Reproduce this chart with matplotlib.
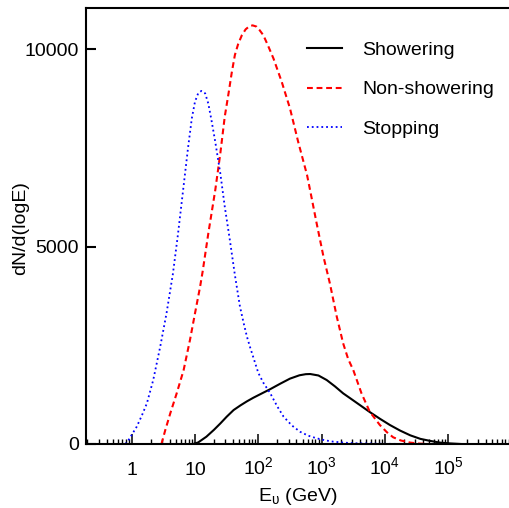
import numpy as np
import matplotlib
matplotlib.use("Agg")
import matplotlib.pyplot as plt
from matplotlib.ticker import LogLocator, NullFormatter, FixedLocator

plt.rcParams['font.family'] = ['Liberation Sans', 'DejaVu Sans']
plt.rcParams['mathtext.fontset'] = 'custom'
plt.rcParams['mathtext.rm'] = 'Liberation Sans'
plt.rcParams['mathtext.it'] = 'Liberation Sans:italic'

# log10(E/GeV) and dN/d(logE)
shower_logE = [0.97, 1.05, 1.18, 1.30, 1.40, 1.50, 1.61, 1.72, 1.82, 1.92, 2.03, 2.19,
               2.35, 2.50, 2.65, 2.75, 2.82, 2.95, 3.08, 3.21, 3.34, 3.45, 3.61, 3.76,
               3.92, 4.08, 4.24, 4.40, 4.56, 4.71, 4.87, 5.03, 5.20]
shower_val = [0, 40, 185, 360, 520, 690, 860, 980, 1080, 1170, 1260, 1390,
              1530, 1655, 1740, 1768, 1772, 1735, 1620, 1460, 1283, 1160, 980, 810,
              640, 480, 340, 220, 130, 80, 35, 15, 0]

nonshower_logE = [0.47, 0.53, 0.61, 0.71, 0.82, 0.92, 1.00, 1.08, 1.12, 1.21, 1.32, 1.40,
                  1.47, 1.53, 1.58, 1.63, 1.68, 1.74, 1.80, 1.86, 1.91, 1.97, 2.02, 2.08,
                  2.15, 2.24, 2.37, 2.50, 2.63, 2.77, 2.84, 2.92, 3.03, 3.13, 3.24, 3.34,
                  3.42, 3.50, 3.63, 3.76, 3.92, 4.03, 4.13, 4.25, 4.40, 4.55, 4.71]
nonshower_val = [0, 350, 780, 1280, 1870, 2630, 3310, 3980, 4360, 5330, 6430, 7360,
                 8290, 8880, 9400, 9850, 10120, 10350, 10500, 10580, 10600, 10570, 10480, 10350,
                 10100, 9760, 9170, 8500, 7650, 6810, 6250, 5600, 4740, 4070, 3220, 2550,
                 2150, 1873, 1283, 818, 481, 300, 170, 90, 35, 10, 0]

stop_logE = [-0.10, -0.05, 0.08, 0.16, 0.24, 0.34, 0.45, 0.55, 0.65, 0.73, 0.81, 0.89,
             0.95, 1.00, 1.05, 1.10, 1.16, 1.21, 1.26, 1.32, 1.40, 1.47, 1.55, 1.63,
             1.71, 1.77, 1.82, 1.87, 1.93, 2.00, 2.08, 2.19, 2.30, 2.40, 2.53, 2.66,
             2.79, 2.92, 3.05, 3.18, 3.35, 3.50, 4.00, 4.50]
stop_val = [0, 100, 440, 720, 1030, 1620, 2460, 3310, 4300, 5300, 6400, 7500,
            8250, 8670, 8880, 8940, 8880, 8620, 8200, 7650, 6850, 6010, 5170, 4280,
            3480, 3050, 2720, 2450, 2150, 1800, 1550, 1280, 950, 690, 470, 310,
            210, 145, 95, 60, 35, 20, 5, 0]

decades = [0, 1, 2, 3, 4, 5]
decade_labels = ['1', '10', r'$10^{2}$', r'$10^{3}$', r'$10^{4}$', r'$10^{5}$']

fig = plt.figure(figsize=(5.10, 5.08), dpi=100)
ax = fig.add_axes([86/510, 64/508, 1 - 86/510, 436/508])

ax.plot(10**np.array(shower_logE), shower_val, color='black', lw=1.5, label='Showering')
ax.plot(10**np.array(nonshower_logE), nonshower_val, color='red', lw=1.5,
        dashes=(2.8, 1.8), label='Non-showering')
ax.plot(10**np.array(stop_logE), stop_val, color='blue', lw=1.3, ls=':', label='Stopping')

ax.set_xscale('log')
ax.set_xlim(10**-0.722, 10**5.976)
ax.set_ylim(0, 11040)

ax.xaxis.set_major_locator(LogLocator(base=10, numticks=20))
ax.xaxis.set_minor_locator(LogLocator(base=10, subs=np.arange(2, 10), numticks=20))
ax.xaxis.set_major_formatter(NullFormatter())
ax.xaxis.set_minor_formatter(NullFormatter())
ax.tick_params(axis='x', which='major', direction='in', length=7.5, width=1.1, top=False)
ax.tick_params(axis='x', which='minor', direction='in', length=3.8, width=1.0, top=False)

ax.yaxis.set_major_locator(FixedLocator([0, 5000, 10000]))
ax.tick_params(axis='y', which='major', direction='in', length=7.5, width=1.5,
               labelsize=14, pad=5, right=False)

for s in ['left', 'bottom', 'top']:
    ax.spines[s].set_linewidth(1.5)
ax.spines['right'].set_visible(False)

for d, lab in zip(decades, decade_labels):
    ax.text(10**d, -0.070, lab, transform=ax.get_xaxis_transform(),
            ha='center', va='baseline', fontsize=14)

ax.text(0.5, -0.130, r'E$_{\mathrm{υ}}$ (GeV)', transform=ax.transAxes,
        ha='center', va='baseline', fontsize=14)
fig.text(21/510, 1 - 228/508, 'dN/d(logE)', rotation=90, ha='center', va='center',
         fontsize=14)

ax.legend(loc='upper left', bbox_to_anchor=(0.479, 0.964), frameon=False, fontsize=14,
          handlelength=1.8, handletextpad=1.05, labelspacing=1.13)

fig.savefig('out.png', dpi=100)
